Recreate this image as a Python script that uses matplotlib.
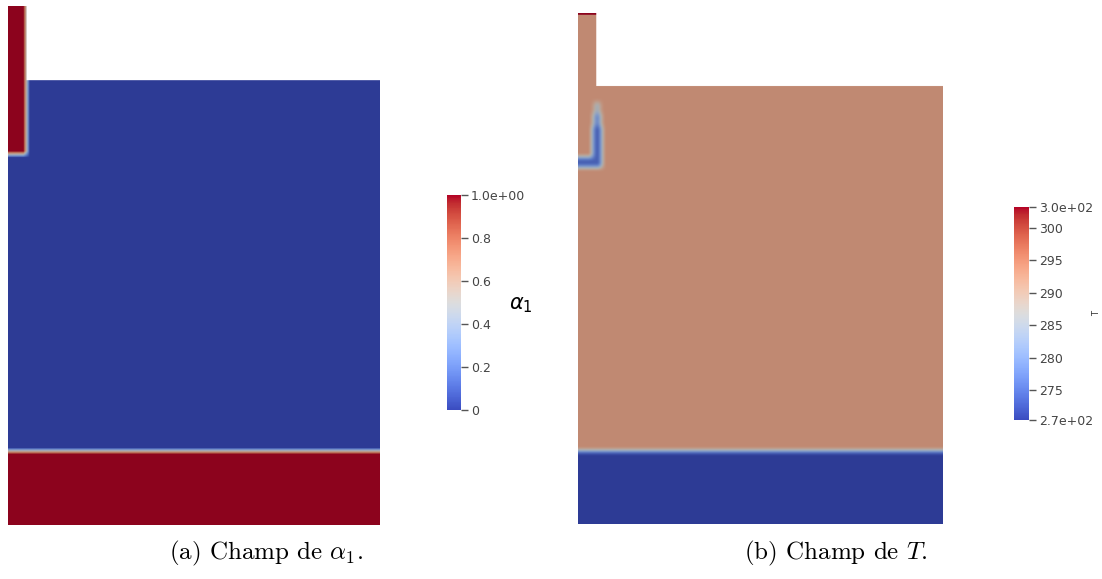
import numpy as np
import matplotlib
matplotlib.use("Agg")
import matplotlib.pyplot as plt
from matplotlib.colors import ListedColormap, Normalize
from matplotlib.cm import ScalarMappable

plt.rcParams['mathtext.fontset'] = 'cm'

# geometrie (largeur de cuve = 1)
tank_w = 1.0
tank_h = 1.2
pipe_w = 0.05
pipe_top = 1.4      # haut du tube d'injection
pipe_bottom = 1.0   # sortie du tube dans la cuve
pool_h = 0.2        # hauteur du bain liquide

# champ alpha_1
alpha_gas = 0.0
alpha_liq = 1.0
alpha_ticks = [0, 0.2, 0.4, 0.6, 0.8, 1.0]
alpha_ticklabels = ['0', '0.2', '0.4', '0.6', '0.8', '1.0e+00']

# champ T
T_min, T_max = 270.4, 303.2
T_gas = 293.0
T_liq = 270.4
T_inlet = 303.2
T_ticks = [270.4, 275, 280, 285, 290, 295, 300, 303.2]
T_ticklabels = ['2.7e+02', '275', '280', '285', '290', '295', '300', '3.0e+02']

# film froid le long de la paroi du tube (x0, x1, y0, y1, T)
films = [
    [0.040, 0.064, 0.980, 1.090, 274.0],
    [0.042, 0.062, 1.090, 1.125, 278.0],
    [0.044, 0.060, 1.125, 1.155, 284.0],
    [0.000, 0.064, 0.978, 1.004, 274.0],
]

res = 0.0025
xs = np.arange(0, tank_w, res) + res / 2
ys = np.arange(0, pipe_top, res) + res / 2
X, Y = np.meshgrid(xs, ys)
inside = ((Y <= tank_h) | (X <= pipe_w))


def blur(f, n=2):
    g = np.pad(f, n, mode='edge')
    out = np.zeros_like(f)
    k = 2 * n + 1
    for i in range(k):
        for j in range(k):
            out += g[i:i + f.shape[0], j:j + f.shape[1]]
    return out / k ** 2


alpha = np.full(X.shape, alpha_gas)
alpha[Y <= pool_h] = alpha_liq
alpha[(X <= pipe_w) & (Y >= pipe_bottom)] = alpha_liq
alpha = blur(alpha, 3)
alpha = np.where(inside, alpha, np.nan)

T = np.full(X.shape, T_gas)
T[Y <= pool_h] = T_liq
for x0, x1, y0, y1, tv in films:
    T[(X >= x0) & (X <= x1) & (Y >= y0) & (Y <= y1)] = tv
T = blur(blur(T, 3), 2)
T[(X <= pipe_w) & (Y >= pipe_top - 0.006)] = T_inlet
T = np.where(inside, T, np.nan)

base = plt.get_cmap('coolwarm')
shade = base(np.linspace(0, 1, 256))
shade[:, :3] *= 0.78
shaded = ListedColormap(shade)
shaded.set_bad('white')

W, H = 1102, 579
fig = plt.figure(figsize=(W / 100, H / 100), dpi=100)


def px_axes(x0, y0, x1, y1):
    return fig.add_axes([x0 / W, 1 - y1 / H, (x1 - x0) / W, (y1 - y0) / H])


# champ alpha
ax1 = px_axes(8, 6, 380, 525)
ax1.imshow(alpha, origin='lower', extent=[0, tank_w, 0, pipe_top], cmap=shaded,
           vmin=0, vmax=1, aspect='auto', interpolation='bilinear')
ax1.set_xlim(0, tank_w)
ax1.set_ylim(0, pipe_top)
ax1.axis('off')

# champ T
ax2 = px_axes(578, 13, 943, 524)
ax2.imshow(T, origin='lower', extent=[0, tank_w, 0, pipe_top], cmap=shaded,
           vmin=T_min, vmax=T_max, aspect='auto', interpolation='bilinear')
ax2.set_xlim(0, tank_w)
ax2.set_ylim(0, pipe_top)
ax2.axis('off')


def colorbar(box, vmin, vmax, ticks, labels):
    cax = px_axes(*box)
    sm = ScalarMappable(norm=Normalize(vmin, vmax), cmap=base)
    cb = fig.colorbar(sm, cax=cax, orientation='vertical')
    cb.outline.set_visible(False)
    cb.set_ticks(ticks)
    cb.set_ticklabels(labels)
    cax.tick_params(length=5, width=1, color='#555555', labelcolor='#444444',
                    labelsize=9, pad=2)
    for t in cax.get_yticklabels():
        t.set_fontfamily('DejaVu Sans')
    return cax


colorbar((447, 195, 461, 410), 0, 1, alpha_ticks, alpha_ticklabels)
fig.text(521 / W, 1 - 305 / H, r'$\alpha_1$', fontsize=15, math_fontfamily='dejavusans',
         ha='center', va='center')

colorbar((1014, 207, 1029, 420), T_min, T_max, T_ticks, T_ticklabels)
fig.text(1097 / W, 1 - 313 / H, 'T', fontsize=6, rotation=90, ha='center', va='center',
         color='#333333')

# legendes
fig.text(266 / W, 1 - 553 / H, r'(a) Champ de $\alpha_1$.', fontsize=18,
         fontfamily='cmr10', ha='center', va='center')
fig.text(836 / W, 1 - 553 / H, r'(b) Champ de $T$.', fontsize=18,
         fontfamily='cmr10', ha='center', va='center')

fig.savefig('out.png', dpi=100)
